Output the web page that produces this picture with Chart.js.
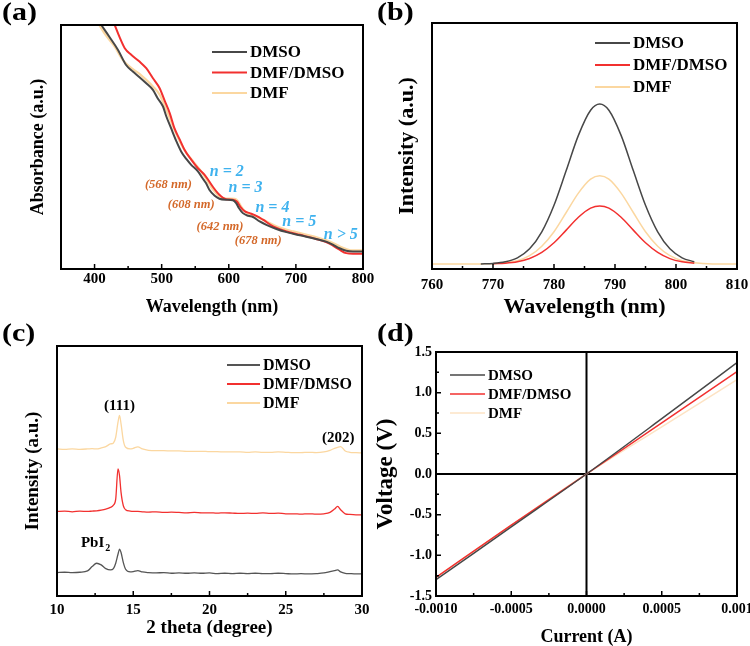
<!DOCTYPE html>
<html>
<head>
<meta charset="utf-8">
<script src="https://cdn.jsdelivr.net/npm/chart.js@4.4.1/dist/chart.umd.min.js"></script>
<style>
  html, body { margin: 0; padding: 0; background: #fff; overflow: hidden; }
  #fig { position: relative; width: 750px; height: 646px; }
  .panel { position: absolute; width: 375px; height: 323px; }
  .tag { position: absolute; font: bold 25px 'Liberation Serif', serif; line-height: 25px; color: #000;
         transform: scaleX(1.2); transform-origin: left top; }
</style>
</head>
<body>
<div id="fig">
  <div class="panel" style="left:0;top:0"><canvas id="chartA" width="375" height="323"></canvas></div>
  <div class="panel" style="left:375px;top:0"><canvas id="chartB" width="375" height="323"></canvas></div>
  <div class="panel" style="left:0;top:323px"><canvas id="chartC" width="375" height="323"></canvas></div>
  <div class="panel" style="left:375px;top:323px"><canvas id="chartD" width="375" height="323"></canvas></div>
  <div class="tag" style="left:2px;top:-1px">(a)</div>
  <div class="tag" style="left:377px;top:-1px">(b)</div>
  <div class="tag" style="left:2px;top:320px">(c)</div>
  <div class="tag" style="left:377px;top:320px">(d)</div>
</div>
<script>
// ---- series names / colours ----
const seriesNames = ['DMSO', 'DMF/DMSO', 'DMF'];

// ---- (a) absorbance ----
const absWlDmso = [410,422,435,447,457,467,477,487,494,502,507,514,522,529,537,544,554,561,566,571,579,586,596,606,611,615,621,629,636,646,656,671,686,706,730,745,755,765,775,785,800];
const absDmso   = [1.0,0.952,0.898,0.836,0.809,0.786,0.761,0.734,0.700,0.666,0.625,0.577,0.523,0.482,0.450,0.427,0.400,0.372,0.352,0.325,0.300,0.288,0.284,0.282,0.270,0.250,0.229,0.218,0.213,0.195,0.181,0.164,0.151,0.138,0.123,0.112,0.100,0.085,0.075,0.072,0.072];
const absWlMix  = [430,437,445,455,467,477,487,497,504,512,519,527,534,544,554,564,576,586,596,606,612,617,624,631,641,651,666,686,706,730,750,765,775,785,800];
const absMix    = [1.0,0.952,0.905,0.877,0.850,0.823,0.782,0.741,0.693,0.639,0.577,0.530,0.489,0.448,0.413,0.386,0.338,0.304,0.286,0.284,0.277,0.256,0.236,0.229,0.218,0.202,0.175,0.154,0.140,0.123,0.104,0.079,0.065,0.063,0.063];
const absWlDmf  = [407,417,430,442,455,467,477,487,497,507,517,527,537,547,557,567,576,586,596,609,614,619,626,636,651,671,696,726,750,765,775,785,800];
const absDmf    = [1.0,0.957,0.911,0.857,0.823,0.800,0.775,0.748,0.714,0.652,0.584,0.523,0.475,0.441,0.407,0.366,0.327,0.297,0.289,0.288,0.277,0.254,0.232,0.221,0.202,0.175,0.154,0.134,0.113,0.093,0.082,0.076,0.076];
const absTicks  = [400, 500, 600, 700, 800];
const nLabels   = ['n = 2', 'n = 3', 'n = 4', 'n = 5', 'n > 5'];
const nLabelX   = [597, 625, 665, 705, 767];
const nLabelY   = [0.398, 0.333, 0.251, 0.194, 0.140];
const peakLabels = ['(568 nm)', '(608 nm)', '(642 nm)', '(678 nm)'];
const peakLabelX = [510, 544, 587, 644];
const peakLabelY = [0.345, 0.263, 0.173, 0.116];

// ---- (b) PL ----
const plWl   = [760,765,768,770,772,774,776,778,780,782,784,786,787.5,789,791,793,795,797,799,801,803,806,810];
const plDmso = [null,null,0.001,0.004,0.014,0.039,0.095,0.201,0.367,0.584,0.804,0.961,1.0,0.961,0.804,0.584,0.367,0.201,0.095,0.039,0.014,null,null];
const plMix  = [null,null,null,0.002,0.005,0.014,0.035,0.073,0.133,0.212,0.292,0.349,0.363,0.349,0.292,0.212,0.133,0.073,0.034,0.014,0.005,null,null];
const plDmf  = [0,0,0.001,0.002,0.008,0.021,0.052,0.111,0.202,0.322,0.443,0.530,0.551,0.530,0.443,0.322,0.202,0.111,0.052,0.021,0.008,0.001,0];
const plTicks = [760, 770, 780, 790, 800, 810];

// ---- (c) XRD ----
const twoTheta = [10,10.5,11,11.5,12,12.3,12.6,12.9,13.2,13.5,13.7,13.85,14.0,14.1,14.2,14.35,14.5,14.8,15.0,15.3,15.6,16,16.5,17,17.5,18,18.5,19,19.5,20,20.5,21,21.5,22,22.5,23,23.5,24,24.5,25,25.5,26,26.5,27,27.5,27.9,28.2,28.4,28.6,28.9,29.2,29.6,30];
const xrdDmso = [0.70,0.71,0.70,0.71,0.75,0.88,0.98,0.93,0.82,0.78,0.82,0.98,1.25,1.40,1.30,1.00,0.80,0.72,0.73,0.76,0.72,0.70,0.69,0.70,0.68,0.69,0.68,0.69,0.68,0.69,0.67,0.68,0.67,0.68,0.67,0.68,0.67,0.67,0.68,0.67,0.66,0.67,0.66,0.67,0.69,0.73,0.76,0.78,0.72,0.68,0.67,0.66,0.66];
const xrdMix  = [2.53,2.54,2.52,2.54,2.53,2.54,2.55,2.57,2.60,2.65,2.72,2.90,3.80,3.60,3.10,2.70,2.58,2.54,2.53,2.53,2.52,2.51,2.52,2.50,2.51,2.50,2.49,2.50,2.49,2.49,2.48,2.49,2.48,2.47,2.48,2.47,2.49,2.47,2.48,2.46,2.46,2.45,2.46,2.45,2.46,2.50,2.60,2.68,2.58,2.46,2.44,2.43,2.43];
const xrdDmf  = [4.40,4.39,4.40,4.39,4.40,4.41,4.40,4.43,4.47,4.55,4.58,4.75,5.20,5.40,5.15,4.65,4.45,4.40,4.42,4.46,4.40,4.36,4.35,4.35,4.34,4.34,4.33,4.33,4.33,4.32,4.32,4.31,4.31,4.31,4.30,4.31,4.30,4.30,4.31,4.30,4.29,4.29,4.30,4.29,4.31,4.36,4.42,4.45,4.47,4.34,4.30,4.29,4.28];
const xrdTicks = [10, 15, 20, 25, 30];

// ---- (d) I-V ----
const ivCurrent = [-0.001, -0.0005, 0, 0.0005, 0.001];
const ivDmso = [-1.30, -0.65, 0, 0.68, 1.37];
const ivMix  = [-1.27, -0.63, 0, 0.63, 1.26];
const ivDmf  = [-1.27, -0.63, 0, 0.58, 1.16];
const ivXTicks = [-0.001, -0.0005, 0, 0.0005, 0.001];
const ivXLabels = ['-0.0010', '-0.0005', '0.0000', '0.0005', '0.001'];
const ivYTicks = [-1.5, -1.0, -0.5, 0, 0.5, 1.0, 1.5];
const ivYLabels = ['-1.5', '-1.0', '-0.5', '0.0', '0.5', '1.0', '1.5'];

Chart.defaults.font.family = "'Liberation Serif', serif";
Chart.defaults.color = '#000';

const SERIF = "'Liberation Serif', serif";

function pts(xs, ys) {
    return xs.map((x, i) => ({ x: x, y: ys[i] }));
}

function drawInwardTicks(ctx, scale, t, horizontal, a) {
    const n = Math.round((scale.max - scale.min) / t.minor);
    ctx.beginPath();
    for (let i = 1; i < n; i++) {
        const v = scale.min + i * t.minor;
        const r = v / t.major;
        const len = Math.abs(r - Math.round(r)) < 1e-6 ? 5 : 3;
        const p = scale.getPixelForValue(v);
        if (horizontal) { ctx.moveTo(p, a.bottom); ctx.lineTo(p, a.bottom - len); }
        else { ctx.moveTo(a.left, p); ctx.lineTo(a.left + len, p); }
    }
    ctx.stroke();
}

// frame, inward ticks, crosshair, text notes and the legend
const extrasPlugin = {
    id: 'extras',
    beforeDatasetsDraw(chart, args, o) {
        if (!o.cross) return;
        const { ctx, chartArea: a, scales } = chart;
        const cx = scales.x.getPixelForValue(0), cy = scales.y.getPixelForValue(0);
        ctx.save();
        ctx.strokeStyle = '#000';
        ctx.lineWidth = 2;
        ctx.beginPath();
        ctx.moveTo(cx, a.top); ctx.lineTo(cx, a.bottom);
        ctx.moveTo(a.left, cy); ctx.lineTo(a.right, cy);
        ctx.stroke();
        ctx.restore();
    },
    afterDatasetsDraw(chart, args, o) {
        const { ctx, chartArea: a, scales } = chart;
        ctx.save();
        ctx.strokeStyle = '#000';
        ctx.lineWidth = 1.5;
        if (o.xTicks) drawInwardTicks(ctx, scales.x, o.xTicks, true, a);
        if (o.yTicks) drawInwardTicks(ctx, scales.y, o.yTicks, false, a);
        ctx.lineWidth = 2;
        ctx.strokeRect(a.left, a.top, a.right - a.left, a.bottom - a.top);

        (o.notes || []).forEach(function(n) {
            const px = scales.x.getPixelForValue(n.x);
            const py = scales.y.getPixelForValue(n.y);
            ctx.fillStyle = n.color || '#000';
            ctx.font = n.font;
            ctx.textBaseline = 'middle';
            if (n.sub) {
                const w1 = ctx.measureText(n.text).width;
                ctx.font = n.subFont;
                const w2 = ctx.measureText(n.sub).width;
                ctx.textAlign = 'left';
                ctx.font = n.font;
                ctx.fillText(n.text, px - (w1 + w2) / 2, py);
                ctx.font = n.subFont;
                ctx.fillText(n.sub, px - (w1 + w2) / 2 + w1 + 1, py + 5);
            } else {
                ctx.textAlign = 'center';
                ctx.fillText(n.text, px, py);
            }
        });

        const L = o.legend;
        if (L) {
            chart.data.datasets.forEach(function(ds, i) {
                const y = L.y + i * L.dy;
                ctx.strokeStyle = ds.borderColor;
                ctx.lineWidth = L.lw;
                ctx.beginPath();
                ctx.moveTo(L.x, y);
                ctx.lineTo(L.x + L.len, y);
                ctx.stroke();
                ctx.fillStyle = '#000';
                ctx.font = L.font;
                ctx.textAlign = 'left';
                ctx.textBaseline = 'middle';
                ctx.fillText(ds.label, L.x + L.len + 3, y + 1);
            });
        }
        ctx.restore();
    }
};

function lineSet(label, data, color, width) {
    return {
        label: label, data: data, borderColor: color, backgroundColor: color,
        borderWidth: width, pointRadius: 0, fill: false,
        cubicInterpolationMode: 'monotone', spanGaps: false
    };
}

// p: panel settings (sizes of axis boxes, fonts, ranges)
function makePanel(id, datasets, p) {
    return new Chart(document.getElementById(id), {
        type: 'line',
        data: { datasets: datasets },
        options: {
            responsive: false,
            animation: false,
            events: [],
            layout: { padding: { top: p.padTop, right: p.padRight, left: 0, bottom: 0 } },
            plugins: { legend: { display: false }, tooltip: { enabled: false }, extras: p.extras },
            scales: {
                x: {
                    type: 'linear', min: p.xMin, max: p.xMax,
                    grid: { display: false, drawTicks: false }, border: { display: false },
                    ticks: {
                        font: { weight: 'bold', size: p.xTickSize, family: SERIF },
                        color: '#000', padding: p.xTickPad, maxRotation: 0, minRotation: 0, autoSkip: false,
                        callback: p.xLabels ? (v, i) => p.xLabels[i] : (v) => String(v)
                    },
                    afterBuildTicks: s => { s.ticks = p.xTicks.map(v => ({ value: v })); },
                    afterFit: s => { s.height = p.xHeight; s.paddingLeft = 0; s.paddingRight = 0; },
                    title: {
                        display: true, text: p.xTitle, color: '#000',
                        font: { weight: 'bold', size: p.xTitleSize, family: SERIF, lineHeight: 1 },
                        padding: { top: 0, bottom: p.xTitlePad }
                    }
                },
                y: {
                    type: 'linear', min: p.yMin, max: p.yMax,
                    grid: { display: false, drawTicks: false }, border: { display: false },
                    ticks: {
                        display: !!p.yTicks,
                        font: { weight: 'bold', size: 14, family: SERIF },
                        color: '#000', padding: 4, autoSkip: false,
                        callback: p.yLabels ? (v, i) => p.yLabels[i] : (v) => String(v)
                    },
                    afterBuildTicks: s => { if (p.yTicks) s.ticks = p.yTicks.map(v => ({ value: v })); },
                    afterFit: s => { s.width = p.yWidth; s.paddingTop = 0; s.paddingBottom = 0; },
                    title: {
                        display: true, text: p.yTitle, color: '#000',
                        font: { weight: 'bold', size: p.yTitleSize, family: SERIF, lineHeight: 1 },
                        padding: { top: p.yTitlePad, bottom: 0 }
                    }
                }
            }
        },
        plugins: [extrasPlugin]
    });
}

const GRAY = '#474747', RED = '#f2302f', PEACH = '#fbd7a0';

// (a)
const notesA = [];
nLabels.forEach((t, i) => notesA.push({ text: t, x: nLabelX[i], y: nLabelY[i], color: '#3fb2ee', font: 'italic bold 16px ' + SERIF }));
peakLabels.forEach((t, i) => notesA.push({ text: t, x: peakLabelX[i], y: peakLabelY[i], color: '#d4692a', font: 'italic bold 12.5px ' + SERIF }));
makePanel('chartA', [
    lineSet(seriesNames[0], pts(absWlDmso, absDmso), GRAY, 2),
    lineSet(seriesNames[1], pts(absWlMix, absMix), RED, 2),
    lineSet(seriesNames[2], pts(absWlDmf, absDmf), PEACH, 2.2)
], {
    padTop: 25, padRight: 12, yWidth: 61, xHeight: 54,
    xMin: 350, xMax: 800, xTicks: absTicks, xTickSize: 15, xTickPad: 1,
    xTitle: 'Wavelength (nm)', xTitleSize: 18, xTitlePad: 7,
    yMin: 0, yMax: 1, yTitle: 'Absorbance (a.u.)', yTitleSize: 18, yTitlePad: 29,
    extras: {
        xTicks: { minor: 50, major: 100 },
        notes: notesA,
        legend: { x: 212, y: 52, dy: 20.5, len: 35, lw: 2, font: 'bold 17px ' + SERIF }
    }
});

// (b)
makePanel('chartB', [
    lineSet(seriesNames[0], pts(plWl, plDmso), GRAY, 1.5),
    lineSet(seriesNames[1], pts(plWl, plMix), RED, 1.5),
    lineSet(seriesNames[2], pts(plWl, plDmf), PEACH, 1.5)
], {
    padTop: 23, padRight: 13, yWidth: 57, xHeight: 54,
    xMin: 760, xMax: 810, xTicks: plTicks, xTickSize: 15, xTickPad: 7,
    xTitle: 'Wavelength (nm)', xTitleSize: 22, xTitlePad: 5,
    yMin: -0.031, yMax: 1.506, yTitle: 'Intensity (a.u.)', yTitleSize: 22, yTitlePad: 21,
    extras: {
        xTicks: { minor: 5, major: 10 },
        legend: { x: 220, y: 43, dy: 22, len: 35, lw: 2, font: 'bold 17px ' + SERIF }
    }
});

// (c)
makePanel('chartC', [
    lineSet(seriesNames[0], pts(twoTheta, xrdDmso), '#555555', 1.3),
    lineSet(seriesNames[1], pts(twoTheta, xrdMix), RED, 1.3),
    lineSet(seriesNames[2], pts(twoTheta, xrdDmf), PEACH, 1.3)
], {
    padTop: 23, padRight: 13, yWidth: 57, xHeight: 50,
    xMin: 10, xMax: 30, xTicks: xrdTicks, xTickSize: 15, xTickPad: 5,
    xTitle: '2 theta (degree)', xTitleSize: 19, xTitlePad: 8,
    yMin: 0, yMax: 7.48, yTitle: 'Intensity (a.u.)', yTitleSize: 19, yTitlePad: 23.5,
    extras: {
        xTicks: { minor: 2.5, major: 5 },
        notes: [
            { text: '(111)', x: 14.1, y: 5.68, font: 'bold 15px ' + SERIF },
            { text: '(202)', x: 28.45, y: 4.73, font: 'bold 15px ' + SERIF },
            { text: 'PbI', sub: '2', x: 12.5, y: 1.58, font: 'bold 15px ' + SERIF, subFont: 'bold 10px ' + SERIF }
        ],
        legend: { x: 227, y: 42, dy: 19, len: 33, lw: 2, font: 'bold 16px ' + SERIF }
    }
});

// (d)
makePanel('chartD', [
    lineSet(seriesNames[0], pts(ivCurrent, ivDmso), GRAY, 1.5),
    lineSet(seriesNames[1], pts(ivCurrent, ivMix), RED, 1.5),
    lineSet(seriesNames[2], pts(ivCurrent, ivDmf), '#fde3c4', 1.5)
], {
    padTop: 29, padRight: 13, yWidth: 61, xHeight: 50,
    xMin: -0.001, xMax: 0.001, xTicks: ivXTicks, xLabels: ivXLabels, xTickSize: 14, xTickPad: 5,
    xTitle: 'Current (A)', xTitleSize: 18, xTitlePad: 0,
    yMin: -1.5, yMax: 1.5, yTicks: ivYTicks, yLabels: ivYLabels,
    yTitle: 'Voltage (V)', yTitleSize: 23, yTitlePad: 0,
    extras: {
        cross: true,
        xTicks: { minor: 0.00025, major: 0.0005 },
        yTicks: { minor: 0.25, major: 0.5 },
        legend: { x: 75, y: 52, dy: 19, len: 35, lw: 1.5, font: 'bold 15px ' + SERIF }
    }
});
</script>
</body>
</html>
